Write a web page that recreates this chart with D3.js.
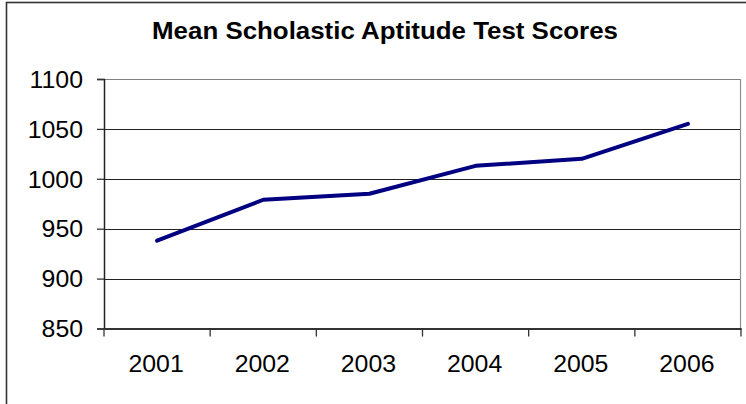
<!DOCTYPE html>
<html>
<head>
<meta charset="utf-8">
<script src="https://cdn.jsdelivr.net/npm/d3@7"></script>
<style>
  body { margin: 0; background: #fff; }
  svg text { font-family: Arial, "Liberation Sans", sans-serif; fill: #000; }
</style>
</head>
<body>
<div id="chart"></div>
<script>
// data
var years = ["2001", "2002", "2003", "2004", "2005", "2006"];
var scores = [938, 979, 985, 1013, 1020, 1055];
var yTicks = [850, 900, 950, 1000, 1050, 1100];

var svgWidth = 746;
var svgHeight = 404;

// plot area
var plot = { left: 104, right: 741, top: 79, bottom: 328.5 };

var svg = d3.select("#chart")
  .append("svg")
  .attr("width", svgWidth)
  .attr("height", svgHeight);

// the source picture is a bit wider than tall, so text gets stretched too
function widen(sel, k) {
  sel.each(function() {
    var len = this.getComputedTextLength();
    d3.select(this)
      .attr("textLength", len * k)
      .attr("lengthAdjust", "spacingAndGlyphs");
  });
}

// outer chart frame (only top and left edges show in the picture)
svg.append("rect")
  .attr("x", 6.5)
  .attr("y", 2.5)
  .attr("width", svgWidth + 20)
  .attr("height", svgHeight + 20)
  .attr("fill", "none")
  .attr("stroke", "#333")
  .attr("stroke-width", 1.6);

var x = d3.scaleBand()
  .domain(years)
  .range([plot.left, plot.right])
  .padding(0);

var y = d3.scaleLinear()
  .domain([850, 1100])
  .range([plot.bottom, plot.top]);

// title
svg.append("text")
  .attr("x", 385)
  .attr("y", 39)
  .attr("text-anchor", "middle")
  .attr("font-weight", "bold")
  .attr("font-size", "23px")
  .text("Mean Scholastic Aptitude Test Scores")
  .call(widen, 1.125);

// gridlines
svg.append("g")
  .selectAll("line")
  .data(yTicks.filter(d => d > 850))
  .enter()
  .append("line")
  .attr("x1", plot.left)
  .attr("x2", plot.right)
  .attr("y1", d => Math.round(y(d)) + 0.5)
  .attr("y2", d => Math.round(y(d)) + 0.5)
  .attr("stroke", d => d == 1100 ? "#808080" : "#222")
  .attr("stroke-width", 1);

// right edge of plot area
svg.append("line")
  .attr("x1", plot.right - 0.5)
  .attr("x2", plot.right - 0.5)
  .attr("y1", plot.top)
  .attr("y2", plot.bottom)
  .attr("stroke", "#909090")
  .attr("stroke-width", 1.2);

// y axis
var leftAxis = d3.axisLeft(y)
  .tickValues(yTicks)
  .tickFormat(d3.format("d"))
  .tickSize(7)
  .tickPadding(14);

var yAxis = svg.append("g")
  .attr("transform", `translate(${plot.left}, 0)`)
  .call(leftAxis);
yAxis.select(".domain").attr("stroke", "#222").attr("stroke-width", 1.5);
yAxis.selectAll(".tick line").attr("stroke", "#333").attr("stroke-width", 1.3);
yAxis.selectAll(".tick text")
  .attr("font-size", "23px")
  .attr("font-family", "Arial, 'Liberation Sans', sans-serif")
  .attr("fill", "#000")
  .attr("dy", "0.36em")
  .call(widen, 1.08);

// x axis: labels centered on the categories, ticks between them
var bottomAxis = d3.axisBottom(x)
  .tickSize(0)
  .tickPadding(27);

var xAxis = svg.append("g")
  .attr("transform", `translate(0, ${plot.bottom})`)
  .call(bottomAxis);
xAxis.select(".domain").attr("stroke", "#333").attr("stroke-width", 2);
xAxis.selectAll(".tick text")
  .attr("font-size", "23px")
  .attr("font-family", "Arial, 'Liberation Sans', sans-serif")
  .attr("fill", "#000")
  .attr("dx", "-1")
  .attr("dy", "0.71em")
  .call(widen, 1.08);

var boundaries = years.map(d => x(d)).concat([x(years[years.length - 1]) + x.bandwidth()]);
xAxis.selectAll(".cat-tick")
  .data(boundaries)
  .enter()
  .append("line")
  .attr("class", "cat-tick")
  .attr("x1", d => d)
  .attr("x2", d => d)
  .attr("y1", 0)
  .attr("y2", 8)
  .attr("stroke", "#333")
  .attr("stroke-width", 1.3);

// the series line
var line = d3.line()
  .x((d, i) => x(years[i]) + x.bandwidth() / 2)
  .y(d => y(d));

svg.append("path")
  .datum(scores)
  .attr("d", line)
  .attr("fill", "none")
  .attr("stroke", "#000080")
  .attr("stroke-width", 4)
  .attr("stroke-linejoin", "round")
  .attr("stroke-linecap", "round");
</script>
</body>
</html>
